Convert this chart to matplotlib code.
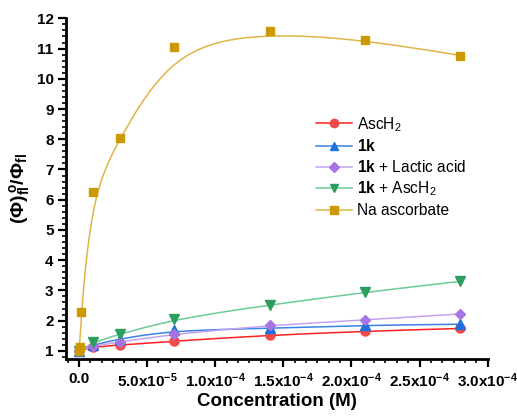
import numpy as np
import matplotlib
matplotlib.use("Agg")
import matplotlib.pyplot as plt
from matplotlib.ticker import AutoMinorLocator, FixedLocator, MultipleLocator

plt.rcParams["font.family"] = ["Liberation Sans", "DejaVu Sans"]
plt.rcParams["mathtext.fontset"] = "custom"
plt.rcParams["mathtext.rm"] = "Liberation Sans"
plt.rcParams["mathtext.it"] = "Liberation Sans:italic"
plt.rcParams["mathtext.bf"] = "Liberation Sans:bold"

# concentracoes (M)
conc = [0.0, 1e-5, 3e-5, 7e-5, 1.4e-4, 2.1e-4, 2.8e-4]
conc_na = [0.0, 5e-7, 1.5e-6, 1e-5, 3e-5, 7e-5, 1.4e-4, 2.1e-4, 2.8e-4]

asch2 = [1.0, 1.13, 1.19, 1.32, 1.52, 1.65, 1.74]
k1 = [1.0, 1.20, 1.40, 1.68, 1.74, 1.85, 1.88]
k1_lactic = [1.0, 1.15, 1.30, 1.55, 1.85, 2.02, 2.22]
k1_asch2 = [1.0, 1.28, 1.55, 2.05, 2.52, 2.94, 3.30]
na_asc = [1.0, 1.13, 2.30, 6.25, 8.05, 11.05, 11.57, 11.30, 10.77]

xticks = [0.0, 5e-5, 1e-4, 1.5e-4, 2e-4, 2.5e-4, 3e-4]
xticklabels = ["0.0", "5.0x10$^{-5}$", "1.0x10$^{-4}$", "1.5x10$^{-4}$",
               "2.0x10$^{-4}$", "2.5x10$^{-4}$", "3.0x10$^{-4}$"]


def bspline(xs, ys, n=300):
    """Curva B-spline cubica (clamped) usando os pontos como pontos de controle."""
    P = np.column_stack([xs, ys]).astype(float)
    m = len(P)
    k = 3
    knots = np.concatenate([[0] * k, np.arange(m - k + 1), [m - k] * k]).astype(float)
    us = np.linspace(0, m - k, n)
    out = []
    for u in us:
        i = np.searchsorted(knots, u, side="right") - 1
        i = min(i, m - 1)
        d = [P[j].copy() for j in range(i - k, i + 1)]
        for r in range(1, k + 1):
            for j in range(k, r - 1, -1):
                idx = j + i - k
                den = knots[idx + k - r + 1] - knots[idx]
                a = 0.0 if den == 0 else (u - knots[idx]) / den
                d[j] = (1 - a) * d[j - 1] + a * d[j]
        out.append(d[k])
    out = np.array(out)
    return out[:, 0], out[:, 1]


series = [
    (conc, asch2, "AscH$_2$", "o", "#f04a4a", "#ff2020"),
    (conc, k1, r"$\mathbf{1k}$", "^", "#1f6fdc", "#3a80e6"),
    (conc, k1_lactic, r"$\mathbf{1k}$ + Lactic acid", "D", "#a874e4", "#c4a2f0"),
    (conc, k1_asch2, r"$\mathbf{1k}$ + AscH$_2$", "v", "#2e9e5e", "#6ccb98"),
    (conc_na, na_asc, "Na ascorbate", "s", "#cc9900", "#e0b448"),
]
msize = {"o": 6.5, "^": 6.5, "D": 5.5, "v": 6.5, "s": 6.0}

fig = plt.figure(figsize=(5.17, 4.17), dpi=100)
ax = fig.add_axes([0.1277, 0.1384, 0.8155, 0.8176])

for xs, ys, label, mk, mcol, lcol in series:
    cx, cy = bspline(xs, ys)
    ax.plot(cx, cy, color=lcol, lw=1.1, zorder=2)
    ax.plot(xs, ys, ls="none", marker=mk, ms=msize[mk], color=mcol, mec=mcol, zorder=3)
    ax.plot([], [], color=lcol, lw=1.1, marker=mk, ms=msize[mk] - 0.5,
            mfc=mcol, mec=mcol, label=label)

ax.set_xlim(-9.5e-6, 3.0e-4)
ax.set_ylim(0.72, 12)
ax.xaxis.set_major_locator(FixedLocator(xticks))
ax.xaxis.set_minor_locator(AutoMinorLocator(6))
ax.yaxis.set_major_locator(MultipleLocator(1))
ax.yaxis.set_minor_locator(MultipleLocator(0.2))
ax.set_yticks(range(1, 13))

for s in ("top", "right"):
    ax.spines[s].set_visible(False)
for s in ("left", "bottom"):
    ax.spines[s].set_linewidth(2.0)

ax.tick_params(which="major", length=6, width=1.6, direction="out", labelsize=11, pad=3)
ax.tick_params(which="minor", length=3, width=1.2, direction="out")
for lab in ax.get_yticklabels():
    lab.set_fontweight("bold")
# rotulos do eixo x em negrito (inclusive o expoente)
ax.set_xticklabels([r"$\mathbf{" + t.replace("$", "") + "}$" if "$" in t else t
                    for t in xticklabels], fontweight="bold")

ax.set_xlabel("Concentration (M)", fontsize=13.5, fontweight="bold", labelpad=2)
ax.set_ylabel(r"$\mathbf{(\Phi)_{fl}^{\,o}/\Phi_{fl}}$", fontsize=14, labelpad=3)

ax.legend(loc="upper left", bbox_to_anchor=(0.578, 0.735), frameon=False,
          fontsize=11.2, handlelength=2.3, handletextpad=0.35, labelspacing=0.3,
          borderaxespad=0)

fig.savefig("out.png", dpi=100)
